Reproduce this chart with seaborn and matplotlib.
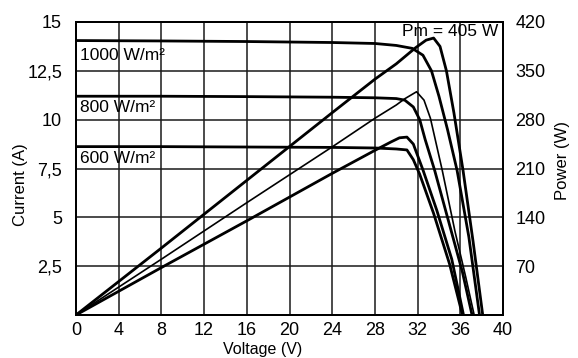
import matplotlib
matplotlib.use("Agg")
import matplotlib.pyplot as plt
import seaborn as sns
import pandas as pd
from matplotlib import font_manager

# ---- data ----
x_ticks = [0, 4, 8, 12, 16, 20, 24, 28, 32, 36, 40]
i_ticks = [2.5, 5, 7.5, 10, 12.5, 15]
i_tick_labels = ["2,5", "5", "7,5", "10", "12,5", "15"]
p_ticks = [70, 140, 210, 280, 350, 420]
p_tick_labels = ["70", "140", "210", "280", "350", "420"]

irradiance_labels = ["1000 W/m²", "800 W/m²", "600 W/m²"]

v_i1000 = [0, 8, 16, 24, 28, 30, 31.5, 32.5, 33.3, 34.0, 34.8, 35.7, 36.8, 37.8]
i_1000 = [14.05, 14.03, 14.0, 13.95, 13.9, 13.8, 13.65, 13.3, 12.5, 11.2, 9.5, 7.4, 4.0, 0]
v_p1000 = [0, 8, 16, 24, 28, 30, 31.8, 32.8, 33.5, 34.1, 34.7, 35.4, 36.25, 37.2, 38.1]
p_1000 = [0, 96, 193, 290, 338, 360, 383, 394, 397, 385, 350, 290, 208, 105, 0]

v_i800 = [0, 8, 16, 24, 28, 30, 30.8, 31.6, 32.2, 32.7, 33.6, 35.0, 36.2, 37.1]
i_800 = [11.2, 11.2, 11.18, 11.15, 11.12, 11.08, 11.0, 10.65, 10.0, 9.0, 7.4, 4.6, 2.2, 0]
v_p800 = [0, 8, 16, 24, 28, 30, 30.8, 31.9, 32.6, 33.2, 34.3, 35.5, 36.5, 37.3]
p_800 = [0, 80, 161, 241, 282, 301, 310, 320, 308, 282, 208, 120, 55, 0]

v_i600 = [0, 8, 16, 24, 28, 30, 31.0, 31.6, 32.2, 33.5, 35.0, 36.2]
i_600 = [8.62, 8.62, 8.6, 8.58, 8.55, 8.5, 8.45, 7.95, 7.2, 5.2, 2.6, 0]
v_p600 = [0, 8, 16, 24, 28, 29.5, 30.3, 31.0, 31.6, 32.5, 33.8, 35.2, 36.3]
p_600 = [0, 68, 135, 203, 236, 248, 254, 255, 245, 208, 150, 80, 0]

pm_label = "Pm = 405 W"

# ---- fonts ----
names = {f.name for f in font_manager.fontManager.ttflist}
fam = "Liberation Sans" if "Liberation Sans" in names else "DejaVu Sans"

sns.set_theme(style="white")
plt.rcParams["font.family"] = [fam, "DejaVu Sans"]

fig = plt.figure(figsize=(5.78, 3.58), dpi=100)
ax = fig.add_axes([76 / 578, 1 - 315 / 358, (503 - 76) / 578, (315 - 22) / 358])
ax2 = ax.twinx()

curves_i = [(v_i1000, i_1000), (v_i800, i_800), (v_i600, i_600)]
curves_p = [(v_p1000, p_1000, 2.0), (v_p800, p_800, 1.2), (v_p600, p_600, 2.0)]

for v, i in curves_i:
    df = pd.DataFrame({"V": v, "I": i})
    sns.lineplot(data=df, x="V", y="I", ax=ax, color="black", lw=2.0,
                 sort=False, estimator=None)
for v, p, lw in curves_p:
    df = pd.DataFrame({"V": v, "P": p})
    sns.lineplot(data=df, x="V", y="P", ax=ax2, color="black", lw=lw,
                 sort=False, estimator=None)

ax.set_xlim(0, 40)
ax.set_ylim(0, 15)
ax2.set_ylim(0, 420)

ax.set_xticks(x_ticks)
ax.set_xticklabels([str(t) for t in x_ticks])
ax.set_yticks(i_ticks)
ax.set_yticklabels(i_tick_labels)
ax2.set_yticks(p_ticks)
ax2.set_yticklabels(p_tick_labels)

ax.grid(True, color="#1a1a1a", lw=1.1)
ax.set_axisbelow(True)
for a in (ax, ax2):
    for s in a.spines.values():
        s.set_color("black")
        s.set_linewidth(1.4)
    a.tick_params(length=0, labelsize=13, colors="black")
ax.tick_params(axis="y", pad=10)
ax.tick_params(axis="x", pad=5)
ax2.tick_params(axis="y", pad=9)

ax.set_xlabel("Voltage (V)", fontsize=11.5, color="black")
ax.xaxis.set_label_coords((263 - 76) / 427, -0.092)
ax.set_ylabel("Current (A)", fontsize=12, color="black")
ax.yaxis.set_label_coords(-0.112, (315 - 185) / 293)
ax2.set_ylabel("Power (W)", fontsize=12, color="black", rotation=90)
ax2.yaxis.set_label_coords(1.122, (315 - 160) / 293)

label_y = [13.3, 10.6, 8.0]
for txt, y in zip(irradiance_labels, label_y):
    ax.text(0.35, y, txt, fontsize=12.5, va="center", ha="left", color="black")
ax.text(39.6, 14.5, pm_label, fontsize=12.5, va="center", ha="right", color="black")

fig.savefig("out.png", dpi=100)
